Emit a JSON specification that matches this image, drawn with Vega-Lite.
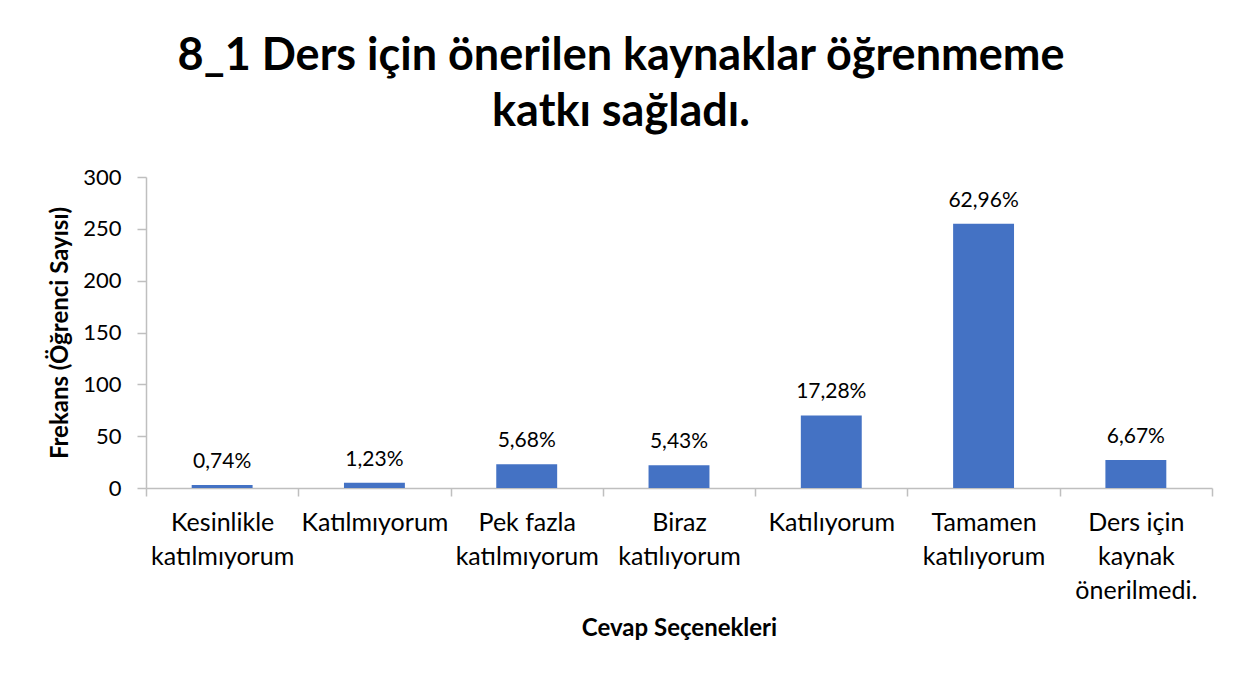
{
  "$schema": "https://vega.github.io/schema/vega-lite/v6.json",
  "width": 1066,
  "height": 311,
  "autosize": {"type": "none"},
  "padding": {"left": 146, "top": 177, "right": 27, "bottom": 185},
  "background": "white",
  "title": {
    "text": ["8_1 Ders için önerilen kaynaklar öğrenmeme", "katkı sağladı."],
    "font": "Lato",
    "fontSize": 45,
    "fontWeight": "bold",
    "color": "#000000",
    "lineHeight": 56,
    "anchor": "middle",
    "dx": -58,
    "offset": 31
  },
  "data": {
    "values": [
      {"cevap": "Kesinlikle katılmıyorum", "frekans": 3, "yuzde": 0.0074},
      {"cevap": "Katılmıyorum", "frekans": 5, "yuzde": 0.0123},
      {"cevap": "Pek fazla katılmıyorum", "frekans": 23, "yuzde": 0.0568},
      {"cevap": "Biraz katılıyorum", "frekans": 22, "yuzde": 0.0543},
      {"cevap": "Katılıyorum", "frekans": 70, "yuzde": 0.1728},
      {"cevap": "Tamamen katılıyorum", "frekans": 255, "yuzde": 0.6296},
      {"cevap": "Ders için kaynak önerilmedi.", "frekans": 27, "yuzde": 0.0667}
    ]
  },
  "encoding": {
    "x": {
      "field": "cevap",
      "type": "nominal",
      "sort": null,
      "scale": {"paddingInner": 0, "paddingOuter": 0},
      "axis": {
        "title": "Cevap Seçenekleri",
        "titleFont": "Lato",
        "titleFontSize": 24,
        "titleFontWeight": "bold",
        "titleColor": "#000000",
        "titlePadding": 13,
        "labelAngle": 0,
        "labelFont": "Lato",
        "labelFontSize": 25,
        "labelColor": "#000000",
        "labelLineHeight": 34,
        "labelPadding": 14,
        "labelExpr": "datum.label == 'Kesinlikle katılmıyorum' ? ['Kesinlikle', 'katılmıyorum'] : datum.label == 'Pek fazla katılmıyorum' ? ['Pek fazla', 'katılmıyorum'] : datum.label == 'Biraz katılıyorum' ? ['Biraz', 'katılıyorum'] : datum.label == 'Tamamen katılıyorum' ? ['Tamamen', 'katılıyorum'] : datum.label == 'Ders için kaynak önerilmedi.' ? ['Ders için', 'kaynak', 'önerilmedi.'] : datum.label",
        "tickBand": "extent",
        "tickSize": 8,
        "tickColor": "#bfbfbf",
        "domainColor": "#bfbfbf",
        "domainWidth": 1.5,
        "tickWidth": 1.5,
        "grid": false
      }
    },
    "y": {
      "field": "frekans",
      "type": "quantitative",
      "scale": {"domain": [0, 300], "nice": false},
      "axis": {
        "title": "Frekans (Öğrenci Sayısı)",
        "titleFont": "Lato",
        "titleFontSize": 24,
        "titleFontWeight": "bold",
        "titleColor": "#000000",
        "titlePadding": 10,
        "values": [0, 50, 100, 150, 200, 250, 300],
        "labelFont": "Lato",
        "labelFontSize": 22,
        "labelColor": "#000000",
        "labelPadding": 16,
        "tickSize": 9,
        "tickColor": "#bfbfbf",
        "domainColor": "#bfbfbf",
        "domainWidth": 1.5,
        "tickWidth": 1.5,
        "grid": false
      }
    }
  },
  "layer": [
    {
      "mark": {"type": "bar", "color": "#4472C4", "width": {"band": 0.4}}
    },
    {
      "mark": {"type": "text", "font": "Lato", "fontSize": 21, "color": "#000000", "baseline": "alphabetic", "dy": -17},
      "encoding": {
        "text": {"field": "yuzde", "type": "quantitative", "format": ".2%"}
      }
    }
  ],
  "config": {
    "view": {"stroke": null},
    "locale": {
      "number": {"decimal": ",", "thousands": ".", "grouping": [3], "currency": ["", " TL"]}
    }
  }
}
